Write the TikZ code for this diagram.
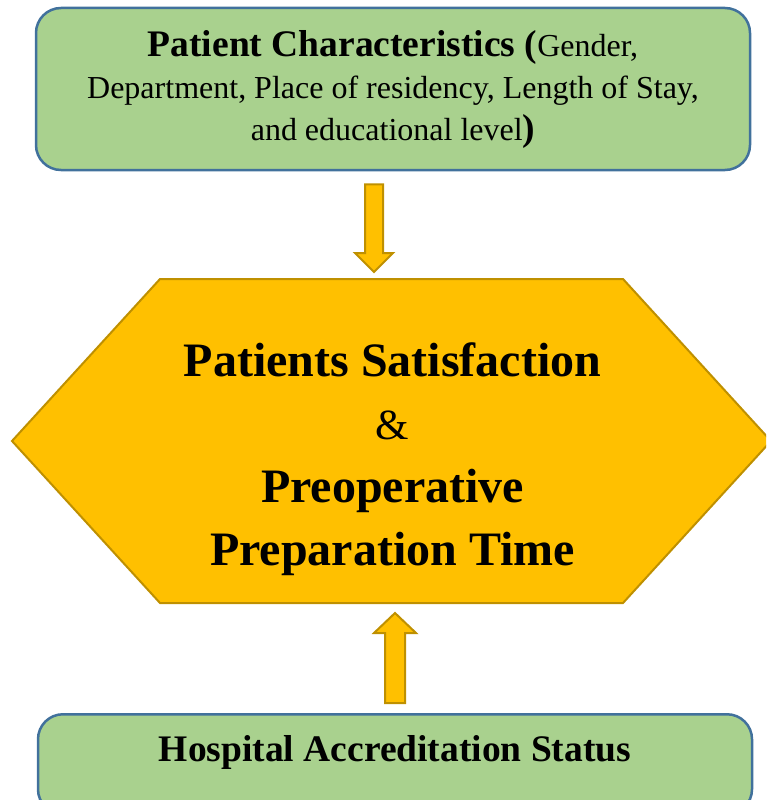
\documentclass[tikz,border=0pt]{standalone}
\usepackage{fontspec}
\setmainfont{Liberation Serif}
\usepackage{xcolor}
\usepackage{tikz}
\usetikzlibrary{calc}
\definecolor{boxgreen}{HTML}{A9D18E}
\definecolor{boxblue}{HTML}{41719C}
\definecolor{hexgold}{HTML}{FFC000}
\definecolor{hexdark}{HTML}{BF9000}
\tikzstyle{greenbox} = [rectangle, rounded corners=25pt, minimum width=714pt, text centered, align=center, draw=boxblue, fill=boxgreen, line width=2.5pt]
\tikzstyle{hexagon} = [draw=hexdark, fill=hexgold, line width=2pt]
\tikzstyle{blockarrow} = [draw=hexdark, fill=hexgold, line width=2pt]
\tikzstyle{bigtext} = [align=center, font=\fontsize{48}{63}\selectfont\bfseries]

\begin{document}
\begin{tikzpicture}[x=1pt, y=-1pt]
    \useasboundingbox (0,0) rectangle (766,800);
    \clip (0,0) rectangle (766,800);

    \node (chars) [greenbox, minimum height=162pt, font=\fontsize{32}{42}\selectfont] at (393,89)
        {{\fontsize{37.5}{42}\selectfont\bfseries Patient Characteristics (}Gender,\\
         Department, Place of residency, Length of Stay,\\
         and educational level{\fontsize{37.5}{42}\selectfont\bfseries )}};

    \draw [hexagon] (160,279) -- (623,279) -- (771,441) -- (623,603) -- (160,603) -- (12,441) -- cycle;
    \node (satis) [bigtext] at (392.5,459)
        {Patients Satisfaction\\
         {\mdseries\fontsize{43}{63}\selectfont \&}\\
         Preoperative\\
         Preparation Time};

    \node (accred) [greenbox, minimum height=100pt, anchor=north] at (395,713) {};
    \node (accredtext) [font=\fontsize{37.5}{42}\selectfont\bfseries] at ($(accred.north)+(0,39)$) {Hospital Accreditation Status};

    % block arrows
    \coordinate (downtail) at ($(chars.south)+(-19,13)$);
    \coordinate (downtip) at (374,272);
    \draw [blockarrow] ($(downtail)+(-9,0)$) -- ($(downtail)+(9,0)$) -- ($(downtip)+(9,-19)$) -- ($(downtip)+(19,-19)$)
        -- (downtip) -- ($(downtip)+(-19,-19)$) -- ($(downtip)+(-9,-19)$) -- cycle;

    \coordinate (uptail) at ($(accred.north)+(0,-10)$);
    \coordinate (uptip) at (395,613);
    \draw [blockarrow] ($(uptail)+(-10,0)$) -- ($(uptail)+(10,0)$) -- ($(uptip)+(10,20)$) -- ($(uptip)+(21,20)$)
        -- (uptip) -- ($(uptip)+(-21,20)$) -- ($(uptip)+(-10,20)$) -- cycle;
\end{tikzpicture}
\end{document}
